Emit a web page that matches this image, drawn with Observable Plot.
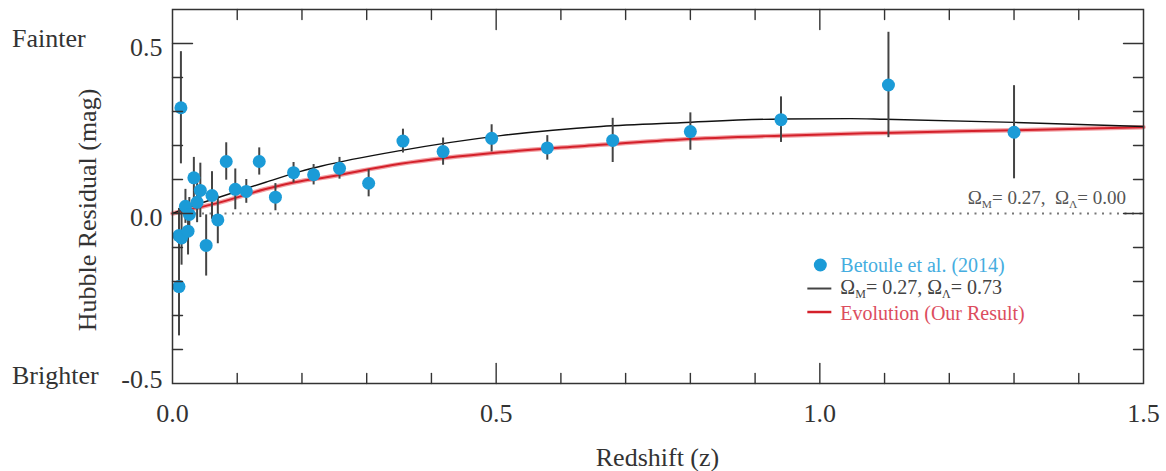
<!DOCTYPE html>
<html><head><meta charset="utf-8">
<script src="https://cdn.jsdelivr.net/npm/d3@7"></script>
<script src="https://cdn.jsdelivr.net/npm/@observablehq/plot@0.6"></script>
<style>
body{margin:0;background:#fff}
#chart{position:relative;width:1166px;height:471px;overflow:hidden}
</style>
</head><body><div id="chart"></div>
<script>
// Betoule et al. (2014) binned Hubble residuals
const binZ = [0.010, 0.013, 0.010, 0.014, 0.024, 0.020, 0.026, 0.033, 0.038, 0.043, 0.052, 0.061, 0.070, 0.083, 0.097, 0.114, 0.134, 0.159, 0.187, 0.218, 0.258, 0.303, 0.356, 0.418, 0.493, 0.579, 0.680, 0.800, 0.940, 1.106, 1.300];
const binResidual = [-0.215, 0.311, -0.065, -0.072, -0.052, 0.021, -0.003, 0.105, 0.033, 0.068, -0.094, 0.053, -0.019, 0.153, 0.071, 0.065, 0.153, 0.048, 0.120, 0.114, 0.133, 0.089, 0.213, 0.182, 0.221, 0.193, 0.215, 0.241, 0.276, 0.378, 0.239];
const binError = [0.145, 0.165, 0.080, 0.080, 0.070, 0.050, 0.050, 0.060, 0.060, 0.080, 0.090, 0.070, 0.070, 0.055, 0.060, 0.035, 0.040, 0.040, 0.030, 0.030, 0.032, 0.040, 0.035, 0.040, 0.040, 0.036, 0.065, 0.055, 0.067, 0.155, 0.137];

// Omega_M = 0.27, Omega_L = 0.73 model curve
const lcdmZ = [0, 0.02, 0.066, 0.144, 0.198, 0.229, 0.352, 0.507, 0.662, 0.785, 0.940, 1.048, 1.100, 1.300, 1.500];
const lcdmResidual = [0, 0.015, 0.044, 0.092, 0.124, 0.139, 0.185, 0.229, 0.256, 0.267, 0.278, 0.279, 0.277, 0.268, 0.256];

// Evolution (our result) curve
const evoZ = [0, 0.02, 0.066, 0.144, 0.198, 0.229, 0.352, 0.507, 0.631, 0.785, 0.940, 1.100, 1.300, 1.500];
const evoResidual = [0, 0.009, 0.029, 0.072, 0.095, 0.104, 0.146, 0.180, 0.198, 0.218, 0.229, 0.237, 0.245, 0.254];

// axis ticks
const xLabelTicks = [0, 0.5, 1.0, 1.5];
const xMajorTicks = [0.5, 1.0];
const xMinorTicks = [0.1, 0.2, 0.3, 0.4, 0.6, 0.7, 0.8, 0.9, 1.1, 1.2, 1.3, 1.4];
const yLabelTicks = [-0.5, 0, 0.5];
const yMajorTicks = [0, 0.5];
const yMinorTicks = [-0.4, -0.3, -0.2, -0.1, 0.1, 0.2, 0.3, 0.4];

const points = binZ.map((z, i) => ({z, v: binResidual[i], e: binError[i]}));
const lcdm = lcdmZ.map((z, i) => ({z, v: lcdmResidual[i]}));
const evo = evoZ.map((z, i) => ({z, v: evoResidual[i]}));

const FONT = '"Liberation Serif", "Times New Roman", serif';
const INK = "#333";
const tickShape = {draw(ctx, l) { ctx.moveTo(0, 0); ctx.lineTo(0, -l); }};
const ticks = (data, k, frameAnchor, rotate, length) =>
  Plot.vector(data, {[k]: d => d, frameAnchor, rotate, length, anchor: "start", shape: tickShape, stroke: INK, strokeWidth: 1.4});

const chart = Plot.plot({
  width: 1166, height: 471,
  marginLeft: 172, marginRight: 23, marginTop: 9, marginBottom: 88,
  style: {fontFamily: FONT, fontSize: "26px", color: INK, background: "#fff", overflow: "visible"},
  x: {domain: [0, 1.5]},
  y: {domain: [-0.5, 0.6]},
  marks: [
    Plot.ruleY([0], {stroke: "#777", strokeWidth: 2, strokeDasharray: "2,5.5"}),
    Plot.line(evo, {x: "z", y: "v", stroke: "#f2a0a4", strokeWidth: 4.5, curve: "monotone-x"}),
    Plot.line(evo, {x: "z", y: "v", stroke: "#d4202a", strokeWidth: 2, curve: "monotone-x"}),
    Plot.line(lcdm, {x: "z", y: "v", stroke: "#111", strokeWidth: 1.4, curve: "monotone-x"}),
    Plot.ruleX(points, {x: "z", y1: d => d.v - d.e, y2: d => d.v + d.e, stroke: "#444", strokeWidth: 2}),
    Plot.dot(points, {x: "z", y: "v", r: 6.5, fill: "#1b9bd7"}),
    ticks(xMinorTicks, "x", "bottom", 0, 10),
    ticks(xMajorTicks, "x", "bottom", 0, 20),
    ticks(xMinorTicks, "x", "top", 180, 10),
    ticks(xMajorTicks, "x", "top", 180, 20),
    ticks(yMinorTicks, "y", "left", 90, 10),
    ticks(yMajorTicks, "y", "left", 90, 20),
    ticks(yMinorTicks, "y", "right", -90, 10),
    ticks(yMajorTicks, "y", "right", -90, 20),
    Plot.axisX({ticks: xLabelTicks, tickSize: 0, tickPadding: 20, tickFormat: d => d.toFixed(1), label: null}),
    Plot.axisY({ticks: yLabelTicks, tickSize: 0, tickPadding: 10, tickFormat: d => d.toFixed(1), label: null, dy: 4}),
    Plot.frame({stroke: INK, strokeWidth: 1.5})
  ]
});
document.getElementById("chart").appendChild(chart);

const sx = chart.scale("x"), sy = chart.scale("y");
const svg = d3.select(chart);
const txt = (x, y, s, opts = {}) => svg.append("text")
  .attr("x", x).attr("y", y).attr("font-family", FONT)
  .attr("font-size", opts.size || 26).attr("fill", opts.fill || INK)
  .attr("text-anchor", opts.anchor || "start").attr("dominant-baseline", "central")
  .attr("transform", opts.transform || null).text(s);

// side labels
txt(12, 38, "Fainter");
txt(12, 375, "Brighter");
txt(0, 0, "Hubble Residual (mag)", {anchor: "middle", transform: `translate(87,${(sy.apply(0.6) + sy.apply(-0.5)) / 2 + 14}) rotate(-90)`});
txt((sx.apply(0) + sx.apply(1.5)) / 2, 457, "Redshift (z)", {anchor: "middle"});

// nudge the -0.5 tick label up, as in the reference
svg.selectAll("text").filter(function() { return this.textContent === "-0.5"; })
  .each(function() {
    const t = this.getAttribute("transform") || "";
    this.setAttribute("transform", (t + " translate(0,-8)").trim());
  });

// Omega-text helper with subscripts
function omegaText(x, y, parts, opts) {
  const t = svg.append("text").attr("x", x).attr("y", y).attr("font-family", FONT)
    .attr("font-size", opts.size).attr("fill", opts.fill).attr("text-anchor", opts.anchor || "start");
  parts.forEach(p => {
    const s = t.append("tspan").text(p.t);
    if (p.sub) s.attr("font-size", opts.size * 0.6).attr("dy", opts.size * 0.22);
    else if (p.after) s.attr("dy", -opts.size * 0.22);
  });
  return t;
}

// annotation for the dotted zero line
omegaText(sx.apply(1.5) - 17, sy.apply(0) - 9, [
  {t: "Ω"}, {t: "M", sub: true}, {t: "= 0.27,  Ω", after: true}, {t: "Λ", sub: true}, {t: "= 0.00", after: true}
], {size: 19, fill: "#555", anchor: "end"});

// legend
const lx = sx.apply(1.0), ly = sy.apply(-0.153), row = 23.5;
svg.append("circle").attr("cx", lx + 1).attr("cy", ly).attr("r", 6.5).attr("fill", "#1b9bd7");
txt(lx + 21, ly, "Betoule et al. (2014)", {size: 20, fill: "#45ade0"});
svg.append("line").attr("x1", lx - 12).attr("x2", lx + 12).attr("y1", ly + row).attr("y2", ly + row).attr("stroke", "#444").attr("stroke-width", 2);
omegaText(lx + 21, ly + row + 5, [
  {t: "Ω"}, {t: "M", sub: true}, {t: "= 0.27, Ω", after: true}, {t: "Λ", sub: true}, {t: "= 0.73", after: true}
], {size: 20, fill: "#444"});
svg.append("line").attr("x1", lx - 12).attr("x2", lx + 12).attr("y1", ly + 2 * row).attr("y2", ly + 2 * row).attr("stroke", "#d4202a").attr("stroke-width", 2.5);
txt(lx + 21, ly + 2 * row + 1, "Evolution (Our Result)", {size: 20, fill: "#dc4d5e"});
</script>
</body></html>
